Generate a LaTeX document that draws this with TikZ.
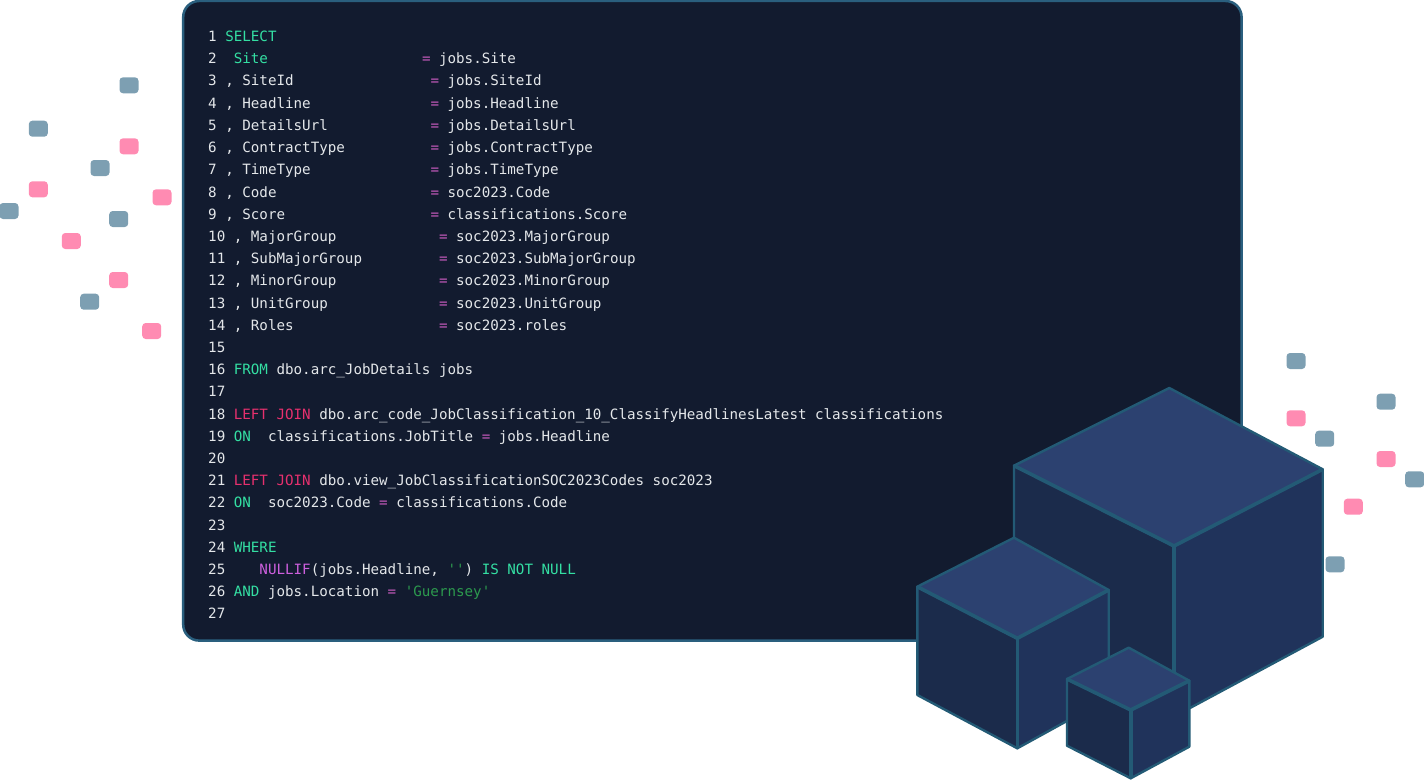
\documentclass[tikz,border=0pt]{standalone}
\usepackage{fontspec}
\setmonofont{DejaVu Sans Mono}
\usepackage{xcolor}
\definecolor{panelbg}{HTML}{121B2F}
\definecolor{panelrim}{HTML}{2A5F7E}
\definecolor{codetxt}{HTML}{E4E7EA}
\definecolor{kwgreen}{HTML}{34DFA3}
\definecolor{kwred}{HTML}{E6306E}
\definecolor{kwpurple}{HTML}{CC5FDD}
\definecolor{eqpink}{HTML}{C85BC0}
\definecolor{strgreen}{HTML}{2C9A4E}
\definecolor{tileblue}{HTML}{7D9FB2}
\definecolor{tilepink}{HTML}{FF8BB2}
\definecolor{facetop}{HTML}{2C4170}
\definecolor{faceleft}{HTML}{1B2B4B}
\definecolor{faceright}{HTML}{20335B}
\definecolor{cuberim}{HTML}{235A75}
\newcommand{\kw}[1]{\textcolor{kwgreen}{#1}}
\newcommand{\jn}[1]{\textcolor{kwred}{#1}}
\newcommand{\fn}[1]{\textcolor{kwpurple}{#1}}
\newcommand{\eqs}{\textcolor{eqpink}{=}}
\newcommand{\str}[1]{\textcolor{strgreen}{#1}}
\tikzset{
  codeline/.style={anchor=base west, inner sep=0, text=codetxt, font=\ttfamily\fontsize{14.2}{22}\selectfont},
  tile/.style={rounded corners=3.5pt, minimum width=19pt, minimum height=16pt, inner sep=0, anchor=center},
  topface/.style={fill=facetop, draw=cuberim, line width=2.4pt, line join=round},
  leftface/.style={fill=faceleft, draw=cuberim, line width=2.4pt, line join=round},
  rightface/.style={fill=faceright, draw=cuberim, line width=2.4pt, line join=round},
  ridge/.style={draw=cuberim, line width=3.6pt, line join=round},
}
\begin{document}
\begin{tikzpicture}[x=1pt, y=-1pt]
\useasboundingbox (0,0) rectangle (1424,781);
% code panel
\draw[fill=panelbg, draw=panelrim, line width=2.5pt, rounded corners=16pt] (183.2,1) rectangle (1241.6,640.6);
% tiles
\foreach \i/\x/\y in {1/129/85.3, 2/38.3/128.7, 3/100/168, 4/9/211, 5/118.7/219, 6/89.7/301.7, 7/1296/361, 8/1386/401.7, 9/1324.7/438.7, 10/1414.7/479.3, 11/1335/564.3} {
  \node[tile, fill=tileblue] (blue\i) at (\x,\y) {};
}
\foreach \i/\x/\y in {1/129/146.3, 2/38.3/189.3, 3/162/197.3, 4/71.3/241, 5/118.7/280, 6/151.7/331, 7/1296/418.3, 8/1386/459, 9/1353.3/506.7} {
  \node[tile, fill=tilepink] (pink\i) at (\x,\y) {};
}
% code lines
\node[codeline] (line1) at (208,41.6) {1 \kw{SELECT}};
\node[codeline] (line2) at (208,63.8) {2~~\kw{Site}};
\node[codeline] (eq2) at (421.8,63.8) {\eqs{} jobs.Site};
\foreach \n/\lhs/\rhs [evaluate=\n as \yy using 41.6+(\n-1)*22.2, evaluate=\n as \xx using 208+8.55*(\n<10 ? 26 : 27)] in {
  3/SiteId/jobs.SiteId, 4/Headline/jobs.Headline, 5/DetailsUrl/jobs.DetailsUrl,
  6/ContractType/jobs.ContractType, 7/TimeType/jobs.TimeType, 8/Code/soc2023.Code,
  9/Score/classifications.Score, 10/MajorGroup/soc2023.MajorGroup,
  11/SubMajorGroup/soc2023.SubMajorGroup, 12/MinorGroup/soc2023.MinorGroup,
  13/UnitGroup/soc2023.UnitGroup, 14/Roles/soc2023.roles} {
  \node[codeline] (line\n) at (208,\yy) {\n{} , \lhs};
  \node[codeline] (eq\n) at (\xx,\yy) {\eqs{} \rhs};
}
\foreach \n/\txt [evaluate=\n as \yy using 41.6+(\n-1)*22.2] in {
  15/{}, 16/{\kw{FROM} dbo.arc\_JobDetails jobs}, 17/{},
  18/{\jn{LEFT JOIN} dbo.arc\_code\_JobClassification\_10\_ClassifyHeadlinesLatest classifications},
  19/{\kw{ON}~~classifications.JobTitle \eqs{} jobs.Headline}, 20/{},
  21/{\jn{LEFT JOIN} dbo.view\_JobClassificationSOC2023Codes soc2023},
  22/{\kw{ON}~~soc2023.Code \eqs{} classifications.Code}, 23/{},
  24/{\kw{WHERE}}, 25/{~~~\fn{NULLIF}(jobs.Headline, \str{''}) \kw{IS NOT NULL}},
  26/{\kw{AND} jobs.Location \eqs{} \str{'Guernsey'}}, 27/{}} {
  \node[codeline] (line\n) at (208,\yy) {\n{} \txt};
}
% large cube
\draw[leftface] (1014,465.7)--(1174,546)--(1174,716.6)--(1014,636)--cycle;
\draw[rightface] (1174,546)--(1322.7,469.3)--(1322.7,636.7)--(1174,716.6)--cycle;
\draw[topface] (1169.3,388)--(1322.7,469.3)--(1174,546)--(1014,465.7)--cycle;
\draw[ridge] (1014,465.7)--(1174,546)--(1322.7,469.3);
\draw[ridge] (1174,546)--(1174,716.6);
% medium cube
\draw[leftface] (917.3,586.7)--(1017.3,638.3)--(1017.3,748.3)--(917.3,695)--cycle;
\draw[rightface] (1017.3,638.3)--(1108.7,590)--(1108.7,698)--(1017.3,748.3)--cycle;
\draw[topface] (1014,537.7)--(1108.7,590)--(1017.3,638.3)--(917.3,586.7)--cycle;
\draw[ridge] (917.3,586.7)--(1017.3,638.3)--(1108.7,590);
\draw[ridge] (1017.3,638.3)--(1017.3,748.3);
% small cube
\draw[leftface] (1067,679)--(1130.7,710)--(1130.7,778.3)--(1067,745.7)--cycle;
\draw[rightface] (1130.7,710)--(1189.3,680.7)--(1189.3,746.7)--(1130.7,778.3)--cycle;
\draw[topface] (1128.7,647.7)--(1189.3,680.7)--(1130.7,710)--(1067,679)--cycle;
\draw[ridge] (1067,679)--(1130.7,710)--(1189.3,680.7);
\draw[ridge] (1130.7,710)--(1130.7,778.3);
\end{tikzpicture}
\end{document}
